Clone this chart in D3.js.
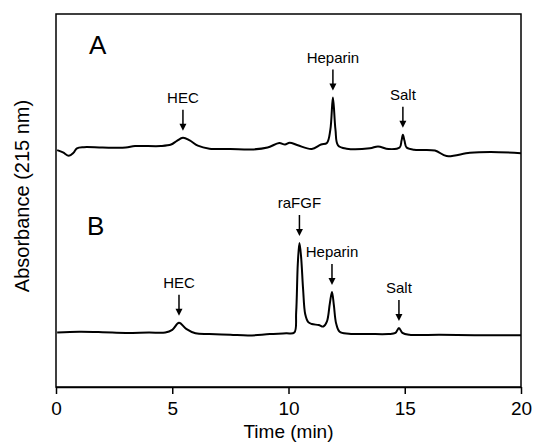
<!DOCTYPE html>
<html>
<head>
<meta charset="utf-8">
<script src="https://cdn.jsdelivr.net/npm/d3@7"></script>
<style>
  body { margin: 0; background: #fff; }
  svg text { font-family: "Liberation Sans", Arial, sans-serif; fill: #000; }
</style>
</head>
<body>
<div id="chart"></div>
<script>
// chromatogram A: [time (min), absorbance (arbitrary units, offset)]
var traceA = [
  [0.05, 63.5], [0.3, 62.9], [0.55, 62.0], [0.75, 62.8], [0.9, 64.0], [1.2, 64.3],
  [2.0, 64.2], [3.0, 64.2], [3.4, 64.6], [4.5, 64.6], [4.95, 65.0], [5.2, 66.0],
  [5.46, 66.8], [5.75, 66.1], [6.1, 64.7], [6.6, 63.9], [7.5, 63.8], [8.5, 63.7],
  [9.1, 64.2], [9.6, 65.4], [9.85, 65.0], [10.05, 65.5], [10.4, 64.8], [11.0, 63.8],
  [11.4, 65.0], [11.65, 65.4], [11.8, 69.0], [11.91, 77.6], [12.02, 69.0], [12.13, 64.8],
  [12.5, 63.9], [13.5, 64.0], [13.85, 64.5], [14.3, 63.8], [14.78, 64.2], [14.86, 66.0],
  [14.92, 67.6], [14.99, 66.0], [15.08, 64.2], [15.4, 63.6], [16.3, 63.4], [16.8, 61.9],
  [17.8, 62.8], [18.7, 63.0], [20.0, 62.7]
];

// chromatogram B
var traceB = [
  [0.05, 14.6], [1.0, 14.8], [2.0, 14.7], [3.0, 14.5], [4.0, 14.6], [4.7, 14.6],
  [5.0, 15.3], [5.29, 17.2], [5.6, 15.6], [6.0, 14.4], [6.6, 14.2], [7.5, 14.0],
  [8.3, 13.8], [9.2, 14.2], [9.9, 14.4], [10.25, 14.6], [10.33, 20.0], [10.4, 33.0],
  [10.47, 38.6], [10.54, 35.0], [10.63, 26.0], [10.72, 19.5], [10.85, 17.4], [11.0, 16.9],
  [11.3, 16.6], [11.5, 16.2], [11.65, 17.5], [11.78, 22.5], [11.87, 25.5], [11.95, 22.0],
  [12.05, 17.0], [12.2, 14.8], [12.6, 14.3], [13.5, 14.2], [14.3, 14.2], [14.6, 14.5],
  [14.75, 15.8], [14.9, 14.5], [15.2, 14.0], [16.5, 14.0], [18.0, 13.9], [20.0, 13.9]
];

// peak labels: name, retention time, peak height
var peaksA = [["HEC", 5.46, 66.8], ["Heparin", 11.91, 77.6], ["Salt", 14.92, 67.6]];
var peaksB = [["HEC", 5.29, 17.2], ["raFGF", 10.47, 38.6], ["Heparin", 11.87, 25.5], ["Salt", 14.75, 15.8]];

var xTicks = [0, 5, 10, 15, 20];
var panelLabels = ["A", "B"];

var margin = {top: 14, right: 12, bottom: 56, left: 56},
    width = 533 - margin.left - margin.right,
    height = 443 - margin.top - margin.bottom;

var x = d3.scaleLinear().domain([0, 20]).range([0, width]);
var y = d3.scaleLinear().domain([0, 100]).range([height, 0]);

var svg = d3.select("#chart").append("svg")
    .attr("width", 533)
    .attr("height", 443)
  .append("g")
    .attr("transform", "translate(" + margin.left + "," + margin.top + ")");

// frame
svg.append("rect")
    .attr("width", width)
    .attr("height", height)
    .attr("fill", "none")
    .attr("stroke", "#000")
    .attr("stroke-width", 1.5);

// x axis
var xAxis = svg.append("g")
    .attr("transform", "translate(0," + height + ")")
    .call(d3.axisBottom(x).tickValues(xTicks).tickSize(7).tickSizeOuter(0).tickPadding(8));
xAxis.select(".domain").attr("stroke-width", 1.5);
xAxis.selectAll(".tick line").attr("stroke-width", 1.5);
xAxis.selectAll(".tick text").style("font-size", "19px").attr("fill", "#000");

svg.append("text")
    .attr("x", width / 2)
    .attr("y", height + 51)
    .attr("text-anchor", "middle")
    .style("font-size", "19px")
    .text("Time (min)");

svg.append("text")
    .attr("transform", "translate(" + (29 - margin.left) + "," + (196 - margin.top) + ") rotate(-90)")
    .attr("text-anchor", "middle")
    .style("font-size", "20px")
    .text("Absorbance (215 nm)");

// traces
var line = d3.line()
    .curve(d3.curveCatmullRom.alpha(0.5))
    .x(function(d) { return x(d[0]); })
    .y(function(d) { return y(d[1]); });

[traceA, traceB].forEach(function(tr) {
  svg.append("path")
      .datum(tr)
      .attr("fill", "none")
      .attr("stroke", "#000")
      .attr("stroke-width", 2)
      .attr("stroke-linejoin", "round")
      .attr("d", line);
});

// panel letters
svg.append("text").attr("x", 33).attr("y", 40).style("font-size", "26px").text(panelLabels[0]);
svg.append("text").attr("x", 31).attr("y", 221).style("font-size", "26px").text(panelLabels[1]);

// arrows with labels
function annotate(p) {
  var px = x(p[1]),
      tip = y(p[2]) - 7,
      top = tip - 21;
  svg.append("line")
      .attr("x1", px).attr("x2", px)
      .attr("y1", top).attr("y2", tip - 5)
      .attr("stroke", "#000")
      .attr("stroke-width", 1.5);
  svg.append("path")
      .attr("d", "M" + (px - 3.5) + "," + (tip - 7) + "L" + (px + 3.5) + "," + (tip - 7) + "L" + px + "," + tip + "Z")
      .attr("fill", "#000");
  svg.append("text")
      .attr("x", px)
      .attr("y", top - 7)
      .attr("text-anchor", "middle")
      .style("font-size", "15px")
      .text(p[0]);
}
peaksA.forEach(annotate);
peaksB.forEach(annotate);
</script>
</body>
</html>
